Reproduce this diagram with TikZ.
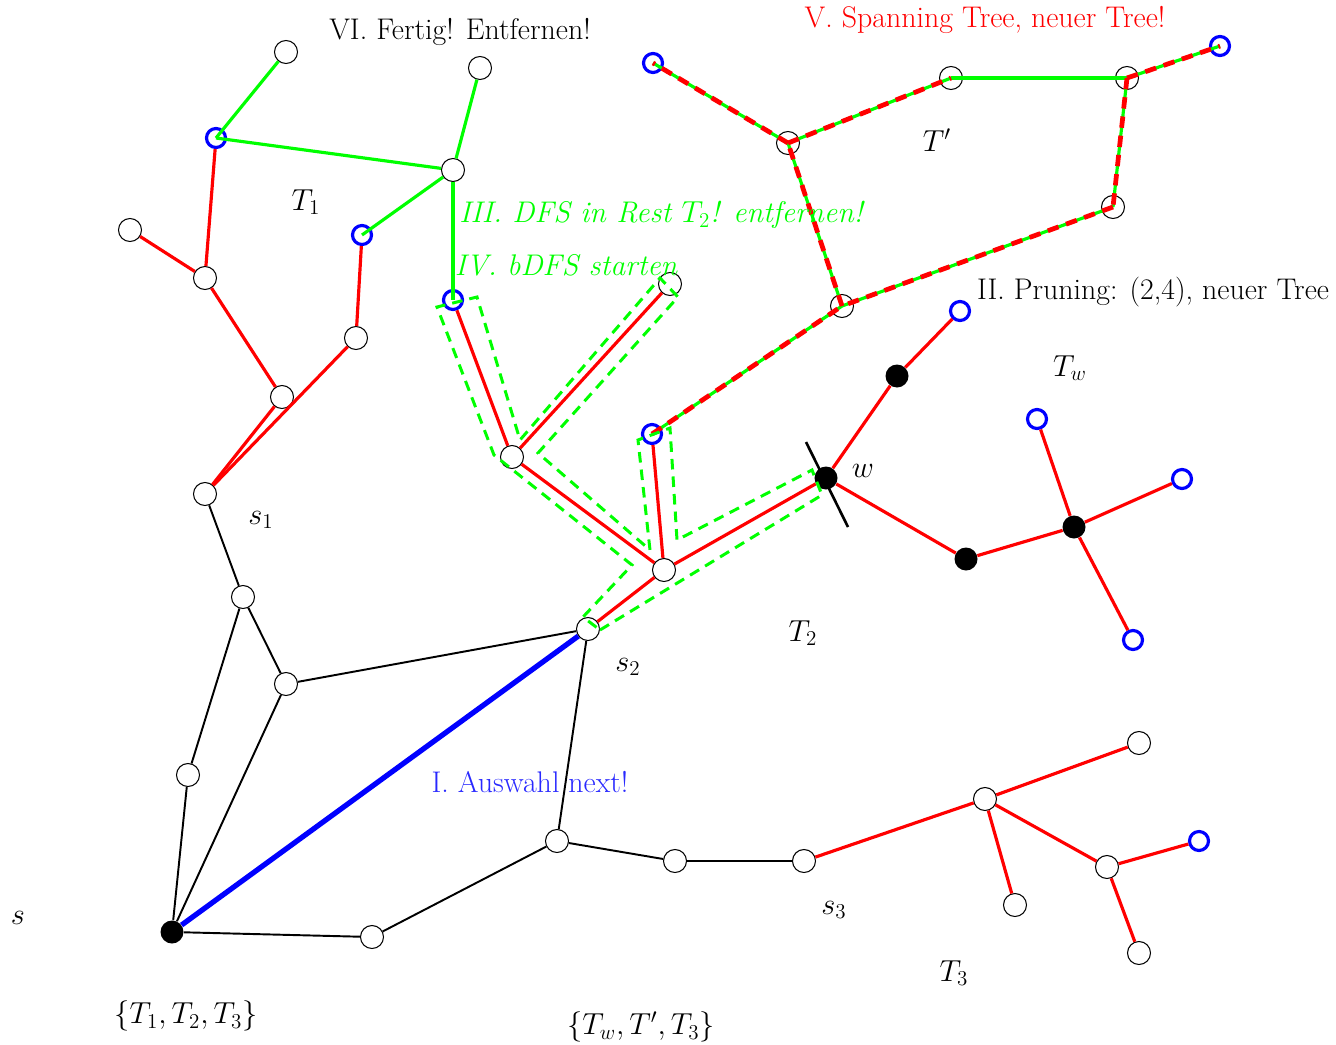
\documentclass[tikz,border=0pt]{standalone}
\usepackage{tikz}

\definecolor{treered}{RGB}{255,0,0}
\definecolor{treegreen}{RGB}{0,255,0}
\definecolor{leafblue}{RGB}{0,0,255}
\definecolor{nextblue}{RGB}{40,40,255}

\begin{document}
\begin{tikzpicture}[
		x=0.02cm, y=-0.02cm,
		font=\fontsize{17}{20}\selectfont,
		vtx/.style={circle, draw=black, fill=white, line width=0.6pt,
			minimum size=0.46cm, inner sep=0pt},
		leaf/.style={circle, draw=leafblue, line width=1.8pt,
			minimum size=0.38cm, inner sep=0pt},
		full/.style={circle, fill=black, minimum size=0.46cm, inner sep=0pt},
		gedge/.style={line width=1.1pt, draw=black},
		redge/.style={line width=1.8pt, draw=treered},
		grnedge/.style={line width=1.8pt, draw=treegreen},
		reddash/.style={line width=2.7pt, draw=treered, dash pattern=on 6.5pt off 4.5pt},
		tube/.style={line width=1.7pt, draw=treegreen, dash pattern=on 6pt off 4pt},
		nextedge/.style={line width=3pt, draw=leafblue}
	]
		\useasboundingbox (0,0) rectangle (1336,1045);
		% Graph um s
		\node[full] (s) at (172,932) {};
		\node[vtx] (a1) at (372,937) {};
		\node[vtx] (a2) at (557,841) {};
		\node[vtx] (a3) at (675,861) {};
		\node[vtx] (s3) at (804,861) {};
		\node[vtx] (b1) at (188,775) {};
		\node[vtx] (b2) at (243,597) {};
		\node[vtx] (b3) at (286,684) {};
		\node[vtx] (s1) at (205,494) {};
		\node[vtx] (s2) at (588,629) {};
		% T1
		\node[vtx] (t1a) at (282,397) {};
		\node[vtx] (t1b) at (205,278) {};
		\node[vtx] (t1c) at (130,230) {};
		\node[leaf] (t1d) at (216,138) {};
		\node[vtx] (t1e) at (356,338) {};
		\node[leaf] (t1f) at (362,235) {};
		\node[vtx] (t1g) at (286,52) {};
		\node[vtx] (t1h) at (453,170) {};
		\node[vtx] (t1i) at (480,68) {};
		% T2
		\node[leaf] (t2a) at (453,300) {};
		\node[vtx] (t2b) at (512,457) {};
		\node[vtx] (t2c) at (670,284) {};
		\node[vtx] (t2d) at (664,570) {};
		\node[leaf] (t2e) at (652,434) {};
		\node[full] (w) at (826,478) {};
		% T'
		\node[vtx] (tpa) at (842,306) {};
		\node[vtx] (tpb) at (788,143) {};
		\node[leaf] (tpc) at (653,63) {};
		\node[vtx] (tpd) at (951,78) {};
		\node[vtx] (tpe) at (1127,78) {};
		\node[leaf] (tpf) at (1220,46) {};
		\node[vtx] (tpg) at (1113,207) {};
		% Tw
		\node[full] (twa) at (897,376) {};
		\node[leaf] (twb) at (960,311) {};
		\node[full] (twc) at (966,559) {};
		\node[full] (twd) at (1074,527) {};
		\node[leaf] (twe) at (1037,419) {};
		\node[leaf] (twf) at (1182,479) {};
		\node[leaf] (twg) at (1133,640) {};
		% T3
		\node[vtx] (t3a) at (985,799) {};
		\node[vtx] (t3b) at (1139,743) {};
		\node[vtx] (t3c) at (1015,905) {};
		\node[vtx] (t3d) at (1107,867) {};
		\node[leaf] (t3e) at (1199,841) {};
		\node[vtx] (t3f) at (1139,953) {};
		% Kanten
		\foreach \a/\b in {s/b1, b1/b2, b2/s1, b2/b3, b3/s, b3/s2, s2/a2, a2/a1, a1/s, a2/a3, a3/s3}
			\draw[gedge] (\a) -- (\b);
		\draw[nextedge] (s) -- (s2);
		\foreach \a/\b in {s1/t1a, t1a/t1b, t1b/t1c, t1b/t1d, s1/t1e, t1e/t1f,
			s2/t2d, t2d/t2b, t2b/t2a, t2b/t2c, t2d/t2e, t2d/w,
			w/twa, twa/twb, w/twc, twc/twd, twd/twe, twd/twf, twd/twg,
			s3/t3a, t3a/t3b, t3a/t3c, t3a/t3d, t3d/t3e, t3d/t3f}
			\draw[redge] (\a) -- (\b);
		% VI. entfernte Kanten
		\draw[grnedge] (t1d.center) -- (t1g);
		\draw[grnedge] (t1d.center) -- (t1h);
		\draw[grnedge] (t1h) -- (t1i);
		\draw[grnedge] (t1h) -- (t1f.center);
		\draw[grnedge] (t1h) -- (t2a.center);
		% V. Spanning Tree
		\foreach \a/\b in {t2e/tpa, tpa/tpb, tpb/tpc, tpb/tpd, tpd/tpe, tpe/tpf, tpe/tpg, tpg/tpa}
			\draw[grnedge] (\a.center) -- (\b.center);
		\foreach \a/\b in {t2e/tpa, tpa/tpb, tpb/tpc, tpb/tpd, tpe/tpf, tpe/tpg, tpg/tpa}
			\draw[reddash] (\a.center) -- (\b.center);
		% IV. bDFS um den Rest von T2
		\draw[tube] (600,630) -- (822,495) -- (812,470) -- (677,540) -- (670,428)
			-- (638,440) -- (650,550) -- (538,453) -- (678,297) -- (660,278)
			-- (520,440) -- (477,297) -- (437,307) -- (494,455) -- (632,565)
			-- (583,617) -- cycle;
		% II. Schnitt bei w
		\draw[line width=1.5pt] (w) ++(-20,-36) -- ++(42,85);
		% Beschriftungen
		\node (lVI) at (460,32) {VI. Fertig! Entfernen!};
		\node[text=treered] (lV) at (985,20) {V. Spanning Tree, neuer Tree!};
		\node[text=treegreen, font=\fontsize{17}{20}\selectfont\itshape] (lIII) at (661,215) {III. DFS in Rest $T_2$! entfernen!};
		\node[text=treegreen, font=\fontsize{17}{20}\selectfont\itshape] (lIV) at (566,265) {IV. bDFS starten};
		\node (lII) at (1153,292) {II. Pruning: (2,4), neuer Tree};
		\node[text=nextblue] (lI) at (530,782) {I. Auswahl next!};
		\node (lT1) at (306,202) {$T_1$};
		\node (lTp) at (937,140) {$T'$};
		\node (lTw) at (1070,368) {$T_w$};
		\node (lw) at (863,471) {$w$};
		\node (ls1) at (261,520) {$s_1$};
		\node (lT2) at (803,633) {$T_2$};
		\node (ls2) at (628,667) {$s_2$};
		\node (ls3) at (834,910) {$s_3$};
		\node (lT3) at (954,973) {$T_3$};
		\node (ls) at (18,918) {$s$};
		\node (lset1) at (186,1016) {$\{T_1,T_2,T_3\}$};
		\node (lset2) at (641,1027) {$\{T_w,T',T_3\}$};
	\end{tikzpicture}
\end{document}
